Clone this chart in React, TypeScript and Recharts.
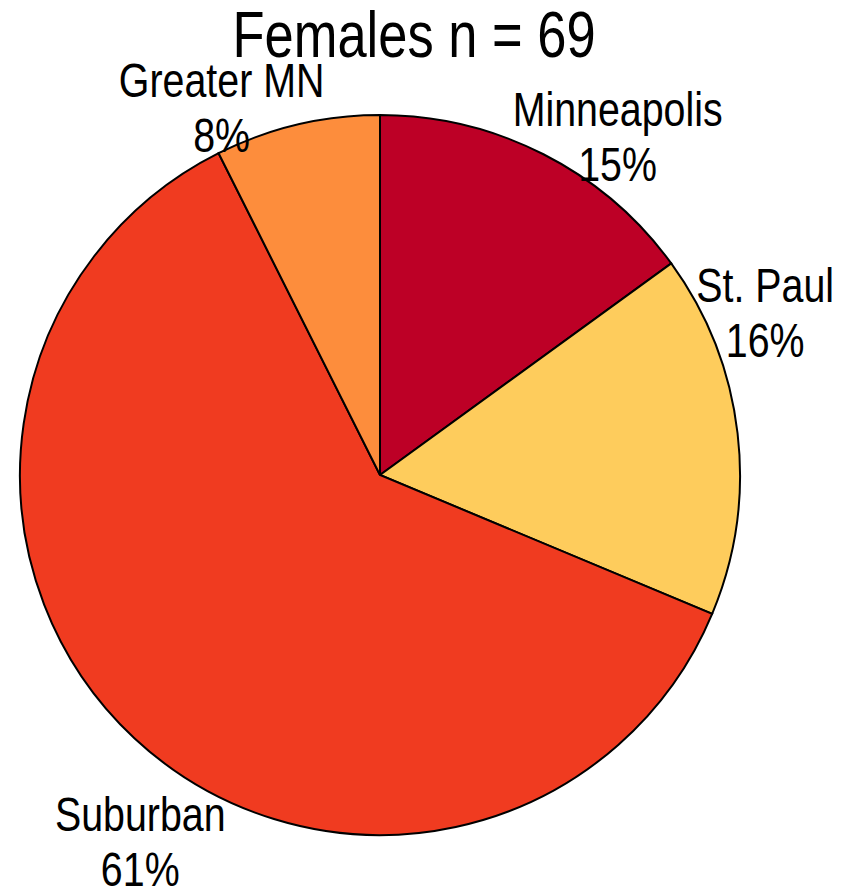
import { PieChart, Pie, Cell } from "recharts";

const regions = ["Minneapolis", "St. Paul", "Suburban", "Greater MN"];
const shares = [15.0, 16.3, 61.3, 7.4];
// percentages as printed on the chart
const shareLabels = ["15%", "16%", "61%", "8%"];
const colors = ["#BD0026", "#FECC5C", "#F03B20", "#FD8D3C"];

const data = regions.map((name, i) => ({ name, value: shares[i], tag: shareLabels[i] }));

// no narrow font installed, so Liberation Sans squeezed sideways
const FONT = "'Liberation Sans', Arial, sans-serif";
const SQUEEZE = 0.82;

// label spots hand placed relative to the pie centre, as fractions of the radius
const labelSpot: Record<string, [number, number]> = {
  "Minneapolis": [0.66, -0.97],
  "St. Paul": [1.07, -0.48],
  "Suburban": [-0.666, 0.99],
  "Greater MN": [-0.44, -1.05],
};

function SliceLabel(props: any) {
  const { cx, cy, outerRadius, name, index } = props;
  const [fx, fy] = labelSpot[name] ?? [0, 0];
  const x = cx + fx * outerRadius;
  const y = cy + fy * outerRadius;
  return (
    <text
      transform={`translate(${x},${y}) scale(${SQUEEZE},1)`}
      textAnchor="middle"
      fill="#000"
      fontFamily={FONT}
      fontSize={48}
    >
      <tspan x={0} dy={0}>{name}</tspan>
      <tspan x={0} dy={55}>{data[index]?.tag}</tspan>
    </text>
  );
}

export default function App() {
  return (
    <div style={{ position: "absolute", left: 0, top: 0, width: 842, height: 888, background: "#fff" }}>
      <PieChart width={842} height={888} margin={{ top: 0, right: 0, bottom: 0, left: 0 }}>
        <text
          transform={`translate(414,57) scale(${SQUEEZE},1)`}
          textAnchor="middle"
          fontFamily={FONT}
          fontSize={64}
          fill="#000"
        >
          Females n = 69
        </text>
        <Pie
          data={data}
          dataKey="value"
          nameKey="name"
          cx={380}
          cy={475}
          outerRadius={360}
          startAngle={90}
          endAngle={-270}
          stroke="#000"
          strokeWidth={2}
          label={SliceLabel}
          labelLine={false}
          isAnimationActive={false}
        >
          {data.map((d, i) => (
            <Cell key={d.name} fill={colors[i]} />
          ))}
        </Pie>
      </PieChart>
    </div>
  );
}
